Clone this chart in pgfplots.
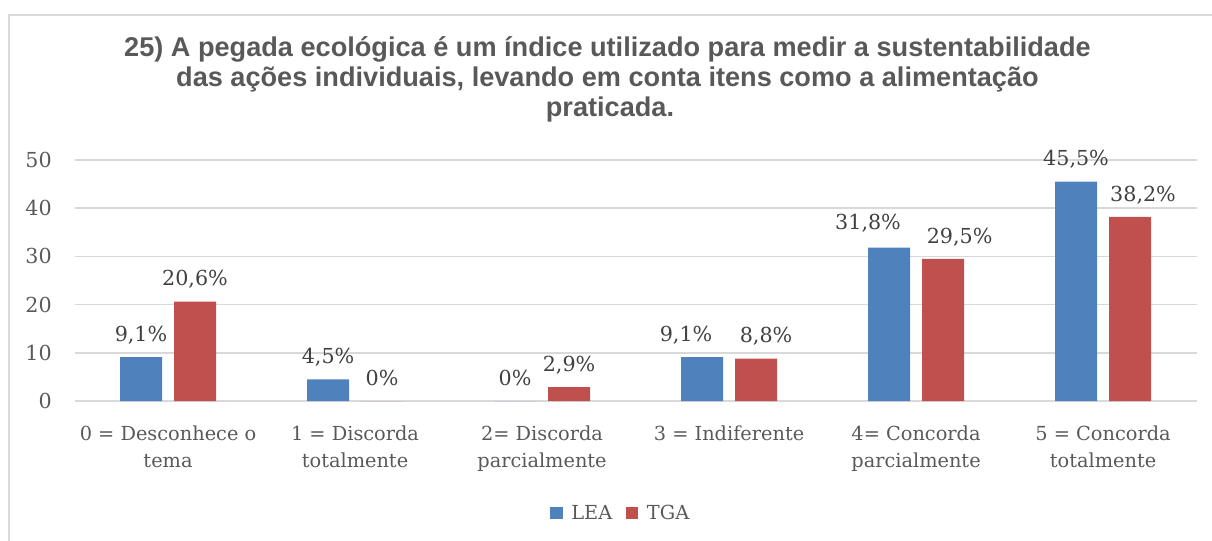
\documentclass[border=0pt]{standalone}
\usepackage{fontspec}
\setmainfont{DejaVu Serif}
\newfontfamily\titlefont{Liberation Sans}
\usepackage{pgfplots}
\usepackage{pgfplotstable}
\pgfplotsset{compat=1.18}
\definecolor{txt}{HTML}{595959}
\definecolor{lbl}{HTML}{404040}
\definecolor{gridc}{HTML}{D9D9D9}
\definecolor{lea}{HTML}{4F81BD}
\definecolor{tga}{HTML}{C0504D}
\newcommand\bodyfont{\fontsize{14.5}{20.5}\selectfont}
\newcommand\numfont{\fontsize{15.5}{18}\selectfont}
\pgfplotstableread{
x y lab dx dy
0 9.1 9,1\% 0 0
1 4.5 4,5\% 0 0
2 0 0\% 0 0
3 9.1 9,1\% -12 0
4 31.8 31,8\% -15.75 1.5
5 45.5 45,5\% 0 0
}\tabLEA
\pgfplotstableread{
x y lab dx dy
0 20.6 20,6\% 0 0
1 0 0\% 0 0
2 2.9 2,9\% 0 0
3 8.8 8,8\% 7.5 0
4 29.5 29,5\% 12.4 0
5 38.2 38,2\% 9.75 0
}\tabTGA
\begin{document}
\begin{tikzpicture}
\path[use as bounding box] (0pt,0pt) rectangle (909pt,405pt);
\draw[gridc, line width=1.5pt] (6.4pt,-2pt) -- (6.4pt,394.1pt) -- (911pt,394.1pt);
\begin{scope}[every node/.style={anchor=base, font=\titlefont\bfseries\fontsize{20.35}{22}\selectfont, text=txt, inner sep=0}]
\node at (455.6pt,362.25pt) {25) A pegada ecológica é um índice utilizado para medir a sustentabilidade};
\node at (455.6pt,339.75pt) {das ações individuais, levando em conta itens como a alimentação};
\node at (457.5pt,317.25pt) {praticada.};
\end{scope}
\begin{axis}[at={(126.025pt,104.25pt)}, anchor=origin, scale only axis,
  width=841.5pt, height=180.75pt,
  xmin=-0.5, xmax=5.5, ymin=0, ymax=50,
  ytick={0,10,...,50}, ymajorgrids,
  grid style={gridc, line width=1.1pt},
  axis line style={draw=none}, major tick length=0pt,
  ybar=9pt, bar width=31.5pt,
  xtick={0,...,5},
  xticklabels={{0 = Desconhece o\\tema},{1 = Discorda\\totalmente},{2= Discorda\\parcialmente},{3 = Indiferente},{4= Concorda\\parcialmente},{5 = Concorda\\totalmente}},
  xticklabel style={align=center, font=\bodyfont, text=txt, inner sep=0pt, anchor=north, yshift=-18.5pt},
  yticklabel style={font=\numfont, text=txt, inner sep=0pt, anchor=east, xshift=-16.9pt},
  /pgf/number format/assume math mode=true,
  point meta=explicit symbolic,
  nodes near coords,
  visualization depends on={\thisrow{dx} \as \dx},
  visualization depends on={\thisrow{dy} \as \dy},
  nodes near coords style={font=\numfont, text=lbl, anchor=base, inner sep=0pt, xshift=\dx, yshift={11.8+\dy}},
  legend style={at={(0.487,-0.4647)}, anchor=center, draw=none, fill=none, legend columns=2, font=\bodyfont, text=txt, inner sep=0pt,
    /tikz/every even column/.append style={column sep=8pt}},
  legend image code/.code={\fill[#1] (0pt,-4.5pt) rectangle (9.5pt,4.5pt); \path (14pt,0pt);},
]
\addplot[fill=lea, draw=none] table[x=x, y=y, meta=lab] {\tabLEA};
\addplot[fill=tga, draw=none] table[x=x, y=y, meta=lab] {\tabTGA};
\legend{LEA,TGA}
\end{axis}
\end{tikzpicture}
\end{document}
